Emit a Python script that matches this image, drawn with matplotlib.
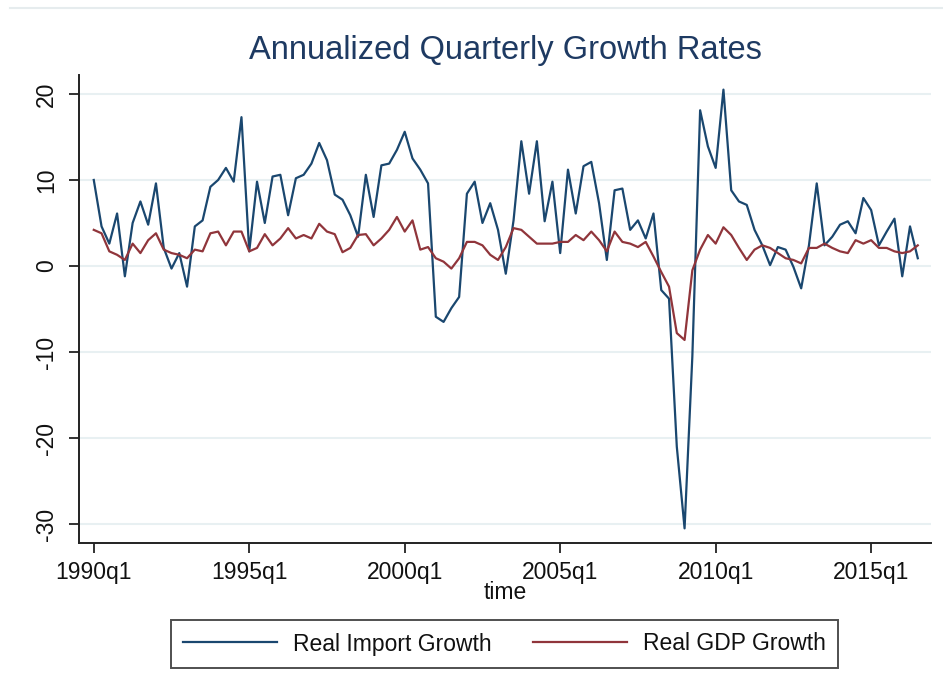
import matplotlib
matplotlib.use("Agg")
import matplotlib.pyplot as plt
from matplotlib.lines import Line2D
import numpy as np

plt.rcParams['font.family'] = ['Liberation Sans', 'DejaVu Sans']

start_year = 1990
tick_labels = ["1990q1", "1995q1", "2000q1", "2005q1", "2010q1", "2015q1"]
y_ticks = [-30, -20, -10, 0, 10, 20]

import_growth = [
    10.0, 4.6, 2.6, 6.1, -1.2, 5.0, 7.5, 4.8, 9.6, 2.1,
    -0.3, 1.5, -2.4, 4.6, 5.3, 9.2, 10.0, 11.4, 9.8, 17.3,
    1.7, 9.8, 5.0, 10.4, 10.6, 5.9, 10.2, 10.6, 11.9, 14.3,
    12.3, 8.3, 7.7, 5.9, 3.4, 10.6, 5.7, 11.7, 11.9, 13.5,
    15.6, 12.5, 11.2, 9.6, -5.9, -6.5, -4.9, -3.6, 8.4, 9.8,
    5.0, 7.3, 4.2, -0.9, 5.3, 14.5, 8.4, 14.5, 5.2, 9.8,
    1.5, 11.2, 6.1, 11.6, 12.1, 7.3, 0.7, 8.8, 9.0, 4.2,
    5.3, 3.2, 6.1, -2.8, -3.8, -21.0, -30.5, -10.5, 18.1, 13.9,
    11.4, 20.5, 8.8, 7.5, 7.1, 4.2, 2.4, 0.1, 2.2, 1.9,
    -0.1, -2.6, 2.4, 9.6, 2.4, 3.4, 4.8, 5.2, 3.8, 7.9,
    6.5, 2.4, 4.0, 5.5, -1.2, 4.6, 0.9,
]

gdp_growth = [
    4.2, 3.8, 1.7, 1.3, 0.7, 2.6, 1.5, 3.0, 3.8, 1.9,
    1.5, 1.3, 0.9, 1.9, 1.7, 3.8, 4.0, 2.4, 4.0, 4.0,
    1.7, 2.1, 3.7, 2.4, 3.2, 4.4, 3.2, 3.6, 3.2, 4.9,
    4.0, 3.7, 1.6, 2.1, 3.6, 3.7, 2.4, 3.2, 4.2, 5.7,
    4.0, 5.3, 1.9, 2.2, 0.9, 0.5, -0.3, 0.9, 2.8, 2.8,
    2.4, 1.3, 0.7, 2.2, 4.4, 4.2, 3.4, 2.6, 2.6, 2.6,
    2.8, 2.8, 3.6, 3.0, 4.0, 3.0, 1.7, 4.0, 2.8, 2.6,
    2.2, 2.8, 1.1, -0.7, -2.4, -7.8, -8.6, -0.5, 1.9, 3.6,
    2.6, 4.5, 3.6, 2.1, 0.7, 1.9, 2.4, 2.1, 1.5, 0.9,
    0.7, 0.3, 2.1, 2.1, 2.6, 2.1, 1.7, 1.5, 3.0, 2.6,
    3.0, 2.1, 2.1, 1.7, 1.5, 1.7, 2.4,
]

q = np.arange(len(import_growth))
tick_pos = [(int(t[:4]) - start_year) * 4 + int(t[-1]) - 1 for t in tick_labels]

W, H = 943, 694
fig = plt.figure(figsize=(W / 100, H / 100), dpi=100)
fig.patch.set_facecolor("white")

# plot area in pixels: x 79..931, y 75..543
left, right, top, bottom = 79, 931, 75, 543
ax = fig.add_axes([left / W, 1 - bottom / H, (right - left) / W, (bottom - top) / H])

blue = "#1a476f"
red = "#90353b"
ax.plot(q, import_growth, color=blue, lw=1.6, zorder=3)
ax.plot(q, gdp_growth, color=red, lw=1.6, zorder=3)

ax.set_xlim(-1.9, 107.7)
ax.set_ylim(-32.2, 22.2)

for y in y_ticks:
    ax.axhline(y, color="#e8f0f2", lw=1.5, zorder=1)

fs = 16.5
ax.set_yticks(y_ticks)
ax.set_yticklabels([str(v) for v in y_ticks], rotation=90, va="center", fontsize=fs)
ax.set_xticks(tick_pos)
ax.set_xticklabels(tick_labels, fontsize=fs)
ax.tick_params(axis="both", direction="out", length=7, width=1.3, color="#222222",
               labelcolor="#111111")
ax.tick_params(axis="x", pad=6)
ax.tick_params(axis="y", pad=8)

for s in ["top", "right"]:
    ax.spines[s].set_visible(False)
for s in ["left", "bottom"]:
    ax.spines[s].set_color("#222222")
    ax.spines[s].set_linewidth(1.4)

ax.set_xlabel("time", fontsize=fs, color="#111111", labelpad=-2)

fig.text((left + right) / 2 / W, 1 - 50 / H, "Annualized Quarterly Growth Rates",
         ha="center", va="center", fontsize=23.5, color="#1e3a62")

# faint top border line
fig.add_artist(Line2D([10 / W, 1], [1 - 8 / H, 1 - 8 / H], color="#e6ecee", lw=1.5))

handles = [Line2D([], [], color=blue, lw=1.6), Line2D([], [], color=red, lw=1.6)]
leg = fig.legend(handles, ["Real Import Growth", "Real GDP Growth"],
                 loc="center", bbox_to_anchor=(504.5 / W, 1 - 644 / H), ncol=2,
                 fontsize=fs, frameon=True, fancybox=False, handlelength=4.1,
                 handletextpad=0.7, columnspacing=1.8, borderpad=0.55)
leg.get_frame().set_edgecolor("#222222")
leg.get_frame().set_linewidth(1.4)
for t in leg.get_texts():
    t.set_color("#111111")

fig.savefig("out.png", dpi=100, facecolor="white")
